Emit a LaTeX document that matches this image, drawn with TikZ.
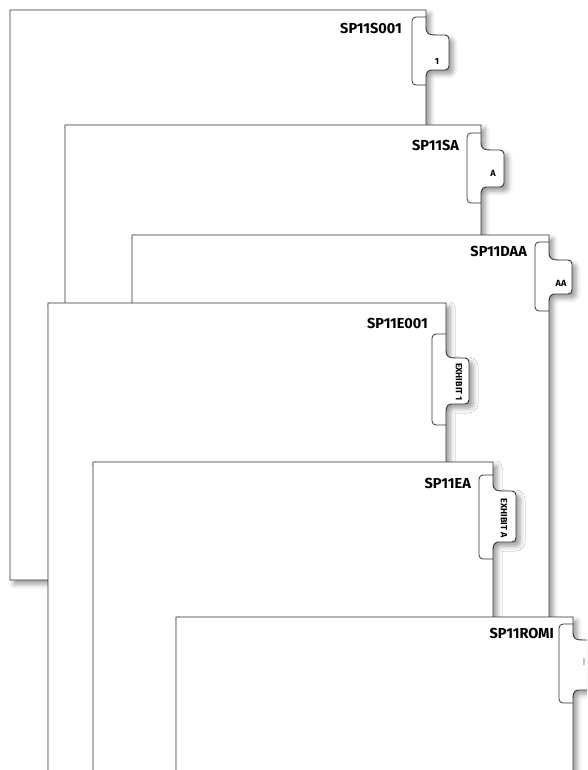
\documentclass[tikz,border=0pt]{standalone}
\usepackage{fontspec}
\setmainfont{Fira Sans}
\usetikzlibrary{shadows.blur}

% one divider sheet: left, top, right, bottom, tab top, tab bottom, bulge start, bulge end
\newcommand{\dividersheet}[8]{%
  \path[sheet] (#1,#4) -- (#1,#2) -- (#3,#2) -- (#3,#7)
    .. controls (#3,#7+7) and (#3+3,#7+8) .. (#3+10,#7+8)
    [rounded corners=4pt] -- (#3+23,#7+8) -- (#3+23,#8-8) -- (#3+10,#8-8) [sharp corners]
    .. controls (#3+3,#8-8) and (#3,#8-7) .. (#3,#8) -- (#3,#4) -- cycle;
  \draw[tabline] (#3,#5) -- (#3-14,#5) -- (#3-14,#6) -- (#3,#6);
}

\begin{document}
\begin{tikzpicture}[x=1pt,y=-1pt]
  \tikzset{sheet/.style={draw=black!80,line width=0.9pt,fill=white,
      blur shadow={shadow xshift=4pt,shadow yshift=-4pt,shadow blur radius=5pt,shadow opacity=40}},
    tabline/.style={draw=black!80,line width=0.8pt,rounded corners=4pt},
    code/.style={font=\fontsize{14.5}{16}\selectfont\bfseries,anchor=east,inner sep=0pt},
    tabtext/.style={font=\fontsize{9}{10}\selectfont\bfseries,inner sep=0pt}}
  \useasboundingbox (0,0) rectangle (587,770);
  \clip (0,0) rectangle (587,770);

  \dividersheet{10}{10}{426}{580}{17}{85}{27}{78}
  \node[code] (c1) at (402,28) {SP11S001};
  \node[tabtext] (t1) at (437,61) {1};

  \dividersheet{65}{125}{481}{800}{133}{203}{142}{195}
  \node[code] (c2) at (459,145) {SP11SA};
  \node[tabtext] (t2) at (493,173) {A};

  \dividersheet{132}{235}{549}{800}{242}{311}{252}{302}
  \node[code] (c3) at (527,251) {SP11DAA};
  \node[tabtext] (t3) at (561,283) {AA};

  \dividersheet{48}{303}{446}{800}{334}{425}{350}{412}
  \node[code] (c4) at (428,323) {SP11E001};
  \node[tabtext,rotate=-90] (t4) at (459,382) {EXHIBIT 1};

  \dividersheet{93}{462}{493}{800}{475}{559}{483}{550}
  \node[code] (c5) at (471,483) {SP11EA};
  \node[tabtext,rotate=-90] (t5) at (504,518) {EXHIBIT A};

  \dividersheet{176}{617}{573}{800}{624}{703}{632}{698}
  \node[code] (c6) at (554,633) {SP11ROMI};
  \node[tabtext,text=black!50,font=\fontsize{10}{11}\selectfont] (t6) at (584,662) {I};
\end{tikzpicture}
\end{document}
